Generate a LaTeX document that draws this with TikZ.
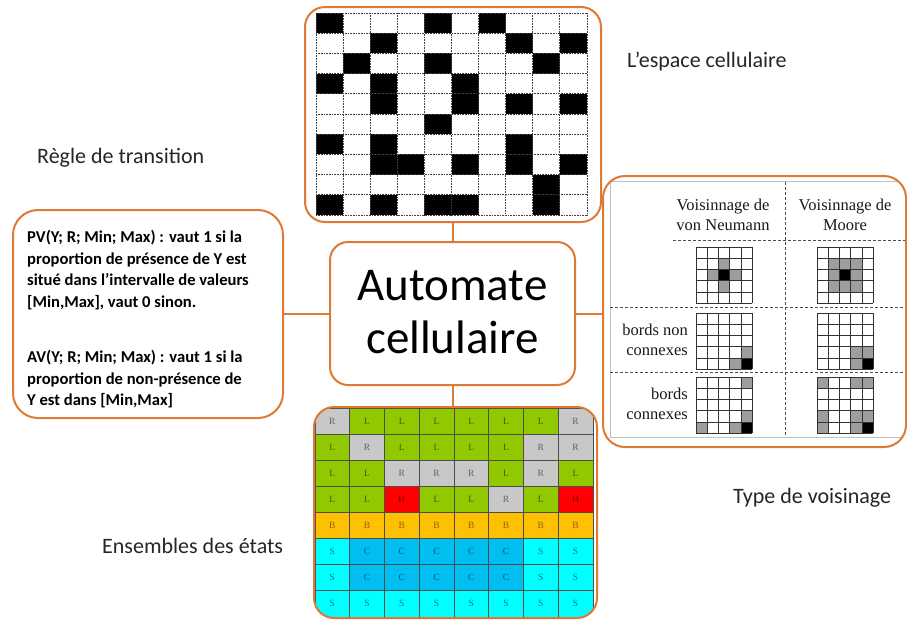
\documentclass[tikz,border=0pt]{standalone}
\usepackage{fontspec}
\setmainfont{Carlito}
\newfontfamily\tms{Liberation Serif}
\definecolor{obord}{RGB}{222,122,52}
\definecolor{cL}{RGB}{146,200,0}
\definecolor{cR}{RGB}{200,200,200}
\definecolor{cH}{RGB}{255,0,0}
\definecolor{cB}{RGB}{255,192,0}
\definecolor{cS}{RGB}{0,255,255}
\definecolor{cC}{RGB}{0,190,240}
\definecolor{tL}{RGB}{70,90,20}
\definecolor{tR}{RGB}{100,100,100}
\definecolor{tH}{RGB}{130,0,0}
\definecolor{tB}{RGB}{140,100,20}
\definecolor{tS}{RGB}{0,120,130}
\definecolor{tC}{RGB}{0,90,130}
\newcommand\nbgrid[4]{%
  \begin{scope}[shift={(#1,#2)}]
    \fill[white] (0,0) rectangle (56,56);
    \foreach \cc/\rr in {#3} \fill[black!38] (\cc*11.2,\rr*11.2) rectangle ++(11.2,11.2);
    \foreach \cc/\rr in {#4} \fill[black] (\cc*11.2,\rr*11.2) rectangle ++(11.2,11.2);
    \foreach \ii in {0,...,5} {
      \draw[black!80, line width=0.6pt] (\ii*11.2,0) -- (\ii*11.2,56);
      \draw[black!80, line width=0.6pt] (0,\ii*11.2) -- (56,\ii*11.2);
    }
  \end{scope}}
\begin{document}
\begin{tikzpicture}[x=1pt,y=-1pt,
  boxst/.style={draw=obord, line width=2pt, rounded corners=#1, inner sep=0pt},
  boxst/.default=20pt,
  conn/.style={draw=obord, line width=2pt},
  lbl/.style={font=\fontsize{22}{26}\selectfont, text=black!85, anchor=base west, inner sep=0pt},
  gridd/.style={black!75, line width=1pt, dash pattern=on 1pt off 0.6pt},
  dashln/.style={black!70, line width=1pt, dash pattern=on 3pt off 2pt},
  hdr/.style={font=\tms\fontsize{16.5}{20}\selectfont, align=center, text=black!90, inner sep=0pt},
  rowl/.style={font=\tms\fontsize{16.5}{20.5}\selectfont, align=right, text=black!90, inner sep=0pt, anchor=east},
  cell/.style={draw=black!70, line width=0.6pt, minimum width=34.75pt, minimum height=26.1pt, inner sep=0pt, font=\tms\fontsize{9.5}{9.5}\selectfont}
]
\useasboundingbox (0,0) rectangle (907,619);
\fill[white] (0,0) rectangle (907,619);

% ---- top grid (espace cellulaire)
\fill[white] (316,13) rectangle (587,215);
\foreach \r/\c in {0/0,0/4,0/6,1/2,1/7,1/9,2/1,2/4,2/8,3/0,3/2,3/5,4/2,4/5,4/7,4/9,5/4,6/0,6/2,6/7,7/2,7/3,7/5,7/7,7/9,8/8,9/0,9/2,9/4,9/5,9/8}
  \fill (316+\c*27.1, 13+\r*20.2) rectangle ++(27.1,20.2);
\foreach \i in {0,...,10} {
  \draw[gridd] (316+\i*27.1,13) -- (316+\i*27.1,215);
  \draw[gridd] (316,13+\i*20.2) -- (587,13+\i*20.2);
}

% ---- right panel (voisinage)
\begin{scope}
  \clip[rounded corners=22pt] (603,176) rectangle (906,447);
  \draw[black!25, line width=0.8pt] (610,181) rectangle (910,437);
  \draw[dashln] (785,182) -- (785,437);
  \draw[dashln] (673,240) -- (906,240);
  \draw[dashln] (610,307) -- (906,307);
  \draw[dashln] (610,372) -- (906,372);
\end{scope}
\node[hdr] (h1) at (723,215) {Voisinnage de\\von Neumann};
\node[hdr] (h2) at (845,215) {Voisinnage de\\Moore};
\node[rowl] (b1) at (688,340) {bords non\\connexes};
\node[rowl] (b2) at (688,404) {bords\\connexes};
\nbgrid{696}{247}{2/1,1/2,3/2,2/3}{2/2}
\nbgrid{817}{247}{1/1,2/1,3/1,1/2,3/2,1/3,2/3,3/3}{2/2}
\nbgrid{696}{313}{4/3,3/4}{4/4}
\nbgrid{817}{313}{3/3,4/3,3/4}{4/4}
\nbgrid{696}{377}{4/0,4/3,3/4,0/4}{4/4}
\nbgrid{817}{377}{0/0,3/0,4/0,0/3,3/3,4/3,0/4,3/4}{4/4}

% ---- bottom grid (etats)
\begin{scope}
  \clip[rounded corners=20pt] (314,407) rectangle (597,618);
  \foreach \row [count=\r from 0] in {{R,L,L,L,L,L,L,R},{L,R,L,L,L,L,R,R},{L,L,R,R,R,L,R,L},{L,L,H,L,L,R,L,H},{B,B,B,B,B,B,B,B},{S,C,C,C,C,C,S,S},{S,C,C,C,C,C,S,S},{S,S,S,S,S,S,S,S}}
    \foreach \s [count=\c from 0] in \row
      \node[cell, fill=c\s, text=t\s] (e\r\c) at (315+\c*34.75+17.375, 408+\r*26.1+13.05) {\s};
\end{scope}

% ---- boxes
\node[boxst=20pt, minimum width=296pt, minimum height=215pt] (espace) at (453,114.5) {};
\node[boxst=22pt, minimum width=303pt, minimum height=271pt] (voisin) at (754.5,311.5) {};
\node[boxst=20pt, minimum width=283pt, minimum height=211pt] (etats) at (455.5,512.5) {};
\node[boxst=25pt, minimum width=270pt, minimum height=208pt] (regle) at (148,314) {};
\node[boxst=18pt, minimum width=245pt, minimum height=143pt] (auto) at (452.5,313.5) {};

\node[anchor=base, inner sep=0pt, font=\fontsize{47}{53}\selectfont] (t1) at (452.5,300) {Automate};
\node[anchor=base, inner sep=0pt, font=\fontsize{47}{53}\selectfont] (t2) at (452.5,353) {cellulaire};

\node[anchor=north west, inner sep=0pt, align=left, font=\bfseries\fontsize{16.6}{21.7}\selectfont] (regtxt) at (27,230)
  {PV(Y; R; Min; Max) : vaut 1 si la\\proportion de présence de Y est\\situé dans l’intervalle de valeurs\\{}[Min,Max], vaut 0 sinon.\\[33pt]AV(Y; R; Min; Max) : vaut 1 si la\\proportion de non-présence de\\Y est dans [Min,Max]};

% ---- connectors
\draw[conn] (auto.north) -- (auto.north |- espace.south);
\draw[conn] (auto.south) -- (auto.south |- etats.north);
\draw[conn] (auto.west) -- (auto.west -| regle.east);
\draw[conn] (auto.east) -- (auto.east -| voisin.west);

% ---- labels
\node[lbl] (l1) at (627,67) {L’espace cellulaire};
\node[lbl] (l2) at (37,163) {Règle de transition};
\node[lbl] (l3) at (733,503) {Type de voisinage};
\node[lbl] (l4) at (102,553) {Ensembles des états};
\end{tikzpicture}
\end{document}
